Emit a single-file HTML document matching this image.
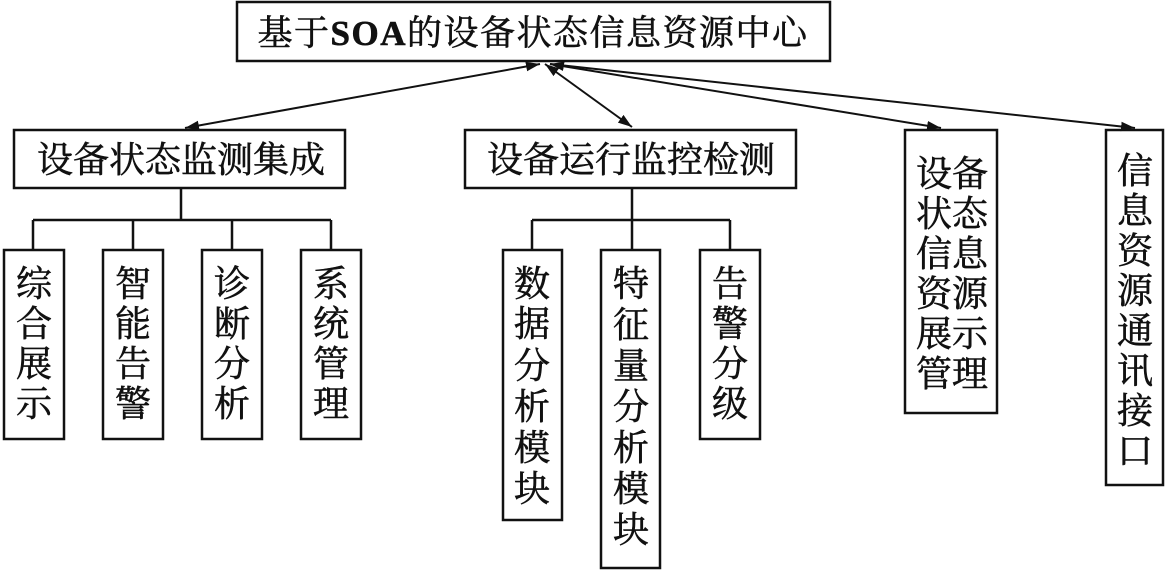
<!DOCTYPE html>
<html><head><meta charset="utf-8"><style>
html,body{margin:0;padding:0;background:#fff;}
svg{display:block;}
text{font-family:"Liberation Serif","Noto Serif CJK SC",serif;font-size:36px;fill:#111;stroke:#111;stroke-width:0.6px;}
</style></head><body>
<svg width="1167" height="571" viewBox="0 0 1167 571" xmlns="http://www.w3.org/2000/svg">
<defs>
<marker id="a" viewBox="0 0 10 10" refX="10" refY="5" markerWidth="14" markerHeight="12" orient="auto-start-reverse" markerUnits="userSpaceOnUse" preserveAspectRatio="none"><path d="M0,1 L10,5 L0,9 z" fill="#111"/></marker>
</defs>
<g fill="none" stroke="#111" stroke-width="2.5">
<rect x="237" y="2" width="593" height="59"/>
<rect x="14" y="130" width="331" height="58"/>
<rect x="465" y="130" width="331" height="58"/>
<rect x="905" y="130" width="92" height="283"/>
<rect x="1106" y="130" width="57" height="355"/>
<rect x="4" y="250" width="60" height="189"/>
<rect x="103" y="250" width="60" height="189"/>
<rect x="202" y="250" width="60" height="189"/>
<rect x="301" y="250" width="60" height="189"/>
<rect x="503" y="250" width="59" height="270"/>
<rect x="601" y="250" width="59" height="318"/>
<rect x="700" y="250" width="60" height="189"/>
<path d="M181 188 V220 M33 220 H331 M33 220 V250 M133 220 V250 M232 220 V250 M331 220 V250"/>
<path d="M632 188 V220 M532 220 H730 M532 220 V250 M632 220 V250 M730 220 V250"/>
</g>
<g stroke="#111" stroke-width="2" fill="none">
<line x1="540" y1="64" x2="185" y2="128" marker-start="url(#a)" marker-end="url(#a)"/>
<line x1="545" y1="64" x2="632" y2="127" marker-start="url(#a)" marker-end="url(#a)"/>
<line x1="550" y1="64" x2="941" y2="128" marker-start="url(#a)" marker-end="url(#a)"/>
<line x1="550" y1="64" x2="1135" y2="128" marker-end="url(#a)"/>
</g>
<text x="533" y="45" text-anchor="middle" style="font-size:35px;letter-spacing:1.5px">基于<tspan font-weight="bold">SOA</tspan>的设备状态信息资源中心</text>
<text x="181" y="172" text-anchor="middle">设备状态监测集成</text>
<text x="631" y="172" text-anchor="middle">设备运行监控检测</text>
<g text-anchor="middle">
<text x="34" y="296">综</text><text x="34" y="336">合</text><text x="34" y="376">展</text><text x="34" y="416">示</text>
<text x="133" y="296">智</text><text x="133" y="336">能</text><text x="133" y="376">告</text><text x="133" y="416">警</text>
<text x="232" y="296">诊</text><text x="232" y="336">断</text><text x="232" y="376">分</text><text x="232" y="416">析</text>
<text x="331" y="296">系</text><text x="331" y="336">统</text><text x="331" y="376">管</text><text x="331" y="416">理</text>
<text x="532" y="296">数</text><text x="532" y="336">据</text><text x="532" y="378">分</text><text x="532" y="419">析</text><text x="532" y="460">模</text><text x="532" y="501">块</text>
<text x="631" y="296">特</text><text x="631" y="337">征</text><text x="631" y="378">量</text><text x="631" y="419">分</text><text x="631" y="460">析</text><text x="631" y="501">模</text><text x="631" y="542">块</text>
<text x="730" y="296">告</text><text x="730" y="336">警</text><text x="730" y="376">分</text><text x="730" y="416">级</text>
<text x="934" y="186">设</text><text x="934" y="226">状</text><text x="934" y="266">信</text><text x="934" y="306">资</text><text x="934" y="346">展</text><text x="934" y="386">管</text>
<text x="970" y="186">备</text><text x="970" y="226">态</text><text x="970" y="266">息</text><text x="970" y="306">源</text><text x="970" y="346">示</text><text x="970" y="386">理</text>
<text x="1135" y="183">信</text><text x="1135" y="223">息</text><text x="1135" y="263">资</text><text x="1135" y="303">源</text><text x="1135" y="343">通</text><text x="1135" y="383">讯</text><text x="1135" y="423">接</text><text x="1135" y="463">口</text>
</g>
</svg>
</body></html>
